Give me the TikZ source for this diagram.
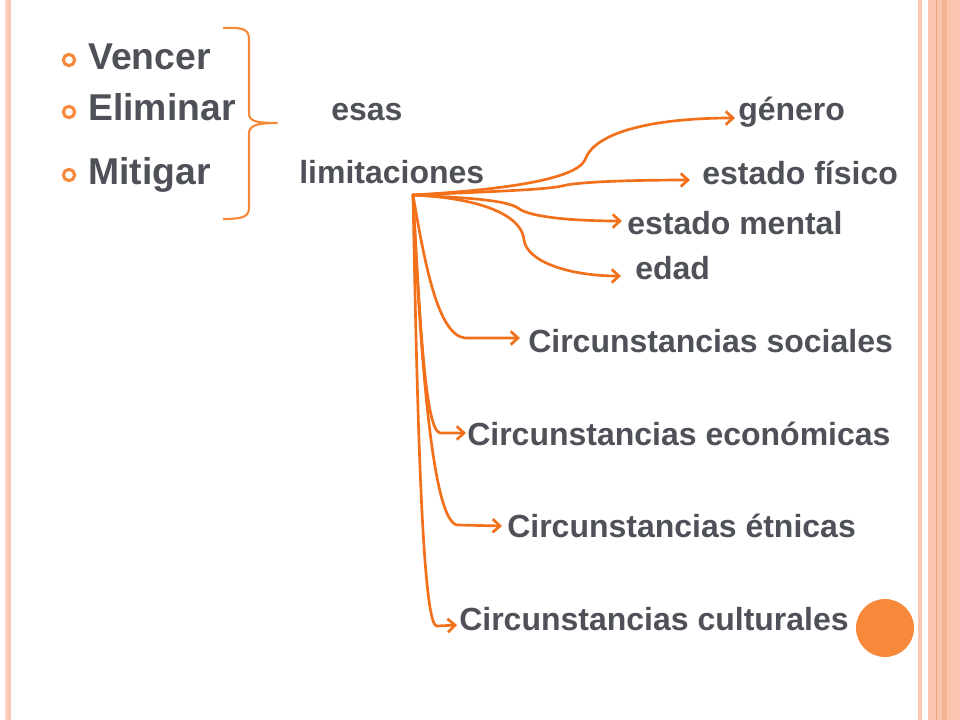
\documentclass[tikz,border=0pt]{standalone}
\usepackage{fontspec}
\setmainfont{Liberation Sans}
\usetikzlibrary{positioning,calc,arrows.meta}
\definecolor{txt}{HTML}{4F5158}
\definecolor{orng}{HTML}{F3701A}
\definecolor{lorng}{HTML}{F68A3A}
\definecolor{peach}{HTML}{FBC6B0}
\definecolor{lpeach}{HTML}{FDD8CA}
\definecolor{dpeach}{HTML}{EFA078}
\tikzset{
  term/.style={anchor=base west,inner sep=0pt,text=txt,font=\fontsize{28}{34}\selectfont\bfseries},
  lbl/.style={anchor=base west,inner sep=0pt,text=txt,font=\fontsize{24}{29}\selectfont\bfseries},
  dot/.style={circle,draw=lorng,line width=2.3pt,minimum size=8.5pt,inner sep=0pt},
  branch/.style={->,draw=orng,line width=2pt,line cap=round,line join=round},
}
\begin{document}
\begin{tikzpicture}[x=0.75pt,y=-0.75pt,>={Straight Barb[length=5.5pt,width=10pt]}]
\useasboundingbox (0,0) rectangle (960,720);
\fill[white] (0,0) rectangle (960,720);
\fill[lpeach] (5,0) rectangle (6.5,720);
\fill[peach] (7,0) rectangle (11,720);
\fill[peach] (918,0) rectangle (922,720);
\fill[peach] (928,0) rectangle (960,720);
\fill[dpeach!50!peach] (942,0) rectangle (947,720);
\draw[dpeach,line width=0.6pt] (936,0) -- (936,720);

\node[term](vencer) at (88,70) {Vencer};
\node[term](eliminar) at (88,121) {Eliminar};
\node[term](mitigar) at (88,185) {Mitigar};
\node[dot](b_v) at (69,60) {};
\node[dot](b_e) at (69,112) {};
\node[dot](b_m) at (69,175) {};
\draw[lorng,line width=1.6pt,line join=round] (223,28) .. controls (245,27) and (249,30) .. (249,40) -- (249,113)
  .. controls (249,121) and (255,123) .. (277,123) .. controls (255,123) and (249,126) .. (249,134) -- (249,207)
  .. controls (249,216) and (245,219) .. (223,219);

\node[lbl](esas) at (331,121) {esas};
\node[lbl](lim) at (299,184) {limitaciones};
\node[lbl](genero) at (738,121) {género};
\node[lbl](fisico) at (702,185) {estado físico};
\node[lbl](mental) at (627,235) {estado mental};
\node[lbl](edad) at (635,280) {edad};
\node[lbl](social) at (528,352) {Circunstancias sociales};
\node[lbl](econ) at (467,445) {Circunstancias económicas};
\node[lbl](etnic) at (507,537) {Circunstancias étnicas};
\node[lbl](cultur) at (459,630) {Circunstancias culturales};
\node[circle,fill=lorng,minimum size=43.5pt,inner sep=0pt](blob) at (885,628) {};

\coordinate (o) at (413,195);
\draw[branch] (o) .. controls (500,190) and (575,180) .. (585,160) .. controls (595,130) and (660,118) .. ([shift={(-3,-3)}]genero.base west);
\draw[branch] (o) .. controls (480,192) and (545,190) .. (562,186) .. controls (580,181) and (650,180) .. ([shift={(-12,-5)}]fisico.base west);
\draw[branch] (o) .. controls (470,198) and (505,200) .. (518,208) .. controls (530,218) and (580,221) .. ([shift={(-5,-14)}]mental.base west);
\draw[branch] (o) .. controls (480,198) and (522,215) .. (524,240) .. controls (527,262) and (570,276) .. ([shift={(-14,-4)}]edad.base west);
\draw[branch] (o) .. controls (425,265) and (438,335) .. (465,338) -- ([shift={(-8,-14)}]social.base west);
\draw[branch] (o) .. controls (420,320) and (425,430) .. (440,433) -- ([shift={(-1,-12)}]econ.base west);
\draw[branch] (o) .. controls (420,350) and (432,525) .. (458,525) -- ([shift={(-5,-11)}]etnic.base west);
\draw[branch] (o) .. controls (417,400) and (422,628) .. (437,626) -- ([shift={(-2,-5)}]cultur.base west);
\end{tikzpicture}
\end{document}
